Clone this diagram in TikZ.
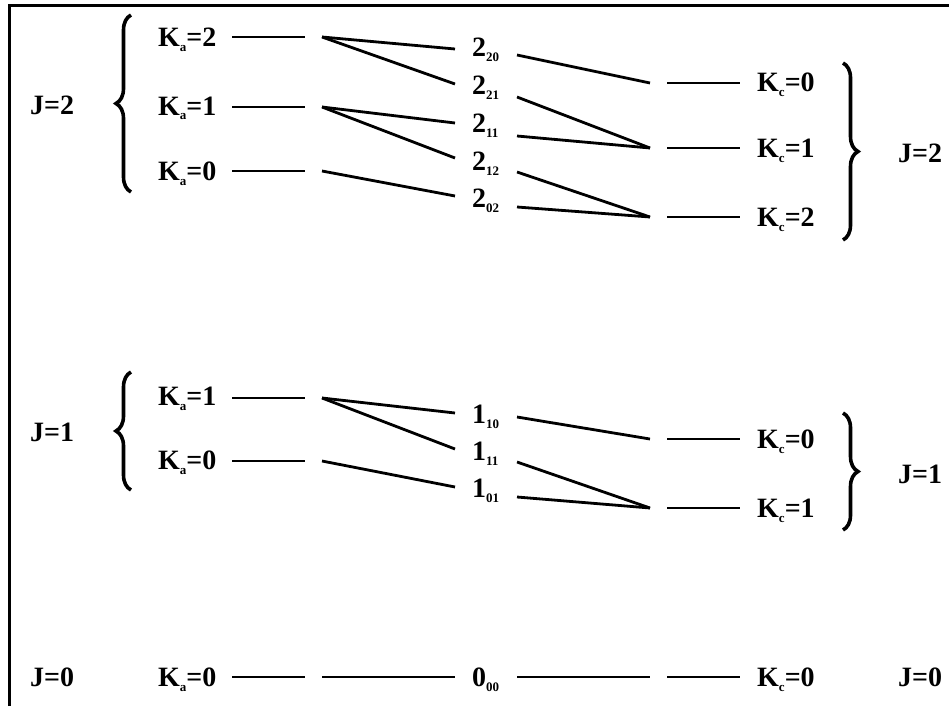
\documentclass[tikz,border=0pt]{standalone}
\usepackage{fontspec}
\setmainfont{Liberation Serif}
\usetikzlibrary{decorations.pathreplacing}
\newcommand\dn[1]{\raisebox{-5pt}{\fontsize{13}{13}\selectfont #1}}
\tikzset{
  lvl/.style={line width=2.8pt},
  txt/.style={anchor=base west, inner sep=0pt, font=\fontsize{28}{30}\selectfont\bfseries},
  lbrc/.style={decorate, decoration={brace, amplitude=15pt}, line width=3.6pt},
  frame/.style={line width=3pt}
}
\begin{document}
\begin{tikzpicture}[x=1pt,y=-1pt]
\useasboundingbox (0,0) rectangle (949,706);
% frame
\coordinate (fb) at (9.5,706); \coordinate (fc) at (9.5,6); \coordinate (fr) at (949,6);
\draw[frame] (fb) -- (fc) -- (fr);

% ================= J = 2 =================
\node[txt] (J2l) at (30,114) {J=2};
\node[txt] (J2r) at (898,162) {J=2};
\coordinate (b2lt) at (131,15); \coordinate (b2lb) at (131,192);
\draw[lbrc] (b2lb) -- (b2lt);
\coordinate (b2rt) at (843,63); \coordinate (b2rb) at (843,240);
\draw[lbrc] (b2rt) -- (b2rb);

\node[txt] (ka22) at (158,47) {K\dn{a}=2};
\node[txt] (ka21) at (158,115) {K\dn{a}=1};
\node[txt] (ka20) at (158,180) {K\dn{a}=0};
\coordinate (a22s) at (232,37);  \coordinate (a22e) at (305,37);
\coordinate (a21s) at (232,107); \coordinate (a21e) at (305,107);
\coordinate (a20s) at (232,171); \coordinate (a20e) at (305,171);
\draw[lvl] (a22s) -- (a22e);
\draw[lvl] (a21s) -- (a21e);
\draw[lvl] (a20s) -- (a20e);
\coordinate (f22) at (322,37);
\coordinate (f21) at (322,107);
\coordinate (f20) at (322,171);

\node[txt] (m220) at (472,57)  {2\dn{20}};
\node[txt] (m221) at (472,95)  {2\dn{21}};
\node[txt] (m211) at (472,132) {2\dn{11}};
\node[txt] (m212) at (472,170) {2\dn{12}};
\node[txt] (m202) at (472,207) {2\dn{02}};
\coordinate (m220w) at (455,49);  \coordinate (m220e) at (517,55);
\coordinate (m221w) at (455,84);  \coordinate (m221e) at (517,97);
\coordinate (m211w) at (455,123); \coordinate (m211e) at (517,136);
\coordinate (m212w) at (455,158); \coordinate (m212e) at (517,172);
\coordinate (m202w) at (455,196); \coordinate (m202e) at (517,207);

\draw[lvl] (f22) -- (m220w);
\draw[lvl] (f22) -- (m221w);
\draw[lvl] (f21) -- (m211w);
\draw[lvl] (f21) -- (m212w);
\draw[lvl] (f20) -- (m202w);

\coordinate (r20) at (650,83);
\coordinate (r21) at (650,148);
\coordinate (r22) at (650,217);
\draw[lvl] (m220e) -- (r20);
\draw[lvl] (m221e) -- (r21);
\draw[lvl] (m211e) -- (r21);
\draw[lvl] (m212e) -- (r22);
\draw[lvl] (m202e) -- (r22);

\coordinate (c20s) at (667,83);  \coordinate (c20e) at (740,83);
\coordinate (c21s) at (667,148); \coordinate (c21e) at (740,148);
\coordinate (c22s) at (667,217); \coordinate (c22e) at (740,217);
\draw[lvl] (c20s) -- (c20e);
\draw[lvl] (c21s) -- (c21e);
\draw[lvl] (c22s) -- (c22e);
\node[txt] (kc20) at (757,92)  {K\dn{c}=0};
\node[txt] (kc21) at (757,157) {K\dn{c}=1};
\node[txt] (kc22) at (757,226) {K\dn{c}=2};

% ================= J = 1 =================
\node[txt] (J1l) at (30,441) {J=1};
\node[txt] (J1r) at (898,483) {J=1};
\coordinate (b1lt) at (131,372); \coordinate (b1lb) at (131,490);
\draw[lbrc] (b1lb) -- (b1lt);
\coordinate (b1rt) at (843,413); \coordinate (b1rb) at (843,530);
\draw[lbrc] (b1rt) -- (b1rb);

\node[txt] (ka11) at (158,405) {K\dn{a}=1};
\node[txt] (ka10) at (158,469) {K\dn{a}=0};
\coordinate (a11s) at (232,398); \coordinate (a11e) at (305,398);
\coordinate (a10s) at (232,461); \coordinate (a10e) at (305,461);
\draw[lvl] (a11s) -- (a11e);
\draw[lvl] (a10s) -- (a10e);
\coordinate (f11) at (322,398);
\coordinate (f10) at (322,461);

\node[txt] (m110) at (472,423) {1\dn{10}};
\node[txt] (m111) at (472,460) {1\dn{11}};
\node[txt] (m101) at (472,497) {1\dn{01}};
\coordinate (m110w) at (455,413); \coordinate (m110e) at (517,417);
\coordinate (m111w) at (455,449); \coordinate (m111e) at (517,462);
\coordinate (m101w) at (455,487); \coordinate (m101e) at (517,497);

\draw[lvl] (f11) -- (m110w);
\draw[lvl] (f11) -- (m111w);
\draw[lvl] (f10) -- (m101w);

\coordinate (r10) at (650,439);
\coordinate (r11) at (650,508);
\draw[lvl] (m110e) -- (r10);
\draw[lvl] (m111e) -- (r11);
\draw[lvl] (m101e) -- (r11);

\coordinate (c10s) at (667,439); \coordinate (c10e) at (740,439);
\coordinate (c11s) at (667,508); \coordinate (c11e) at (740,508);
\draw[lvl] (c10s) -- (c10e);
\draw[lvl] (c11s) -- (c11e);
\node[txt] (kc10) at (757,448) {K\dn{c}=0};
\node[txt] (kc11) at (757,517) {K\dn{c}=1};

% ================= J = 0 =================
\node[txt] (J0l) at (30,686) {J=0};
\node[txt] (J0r) at (898,686) {J=0};
\node[txt] (ka00) at (158,686) {K\dn{a}=0};
\node[txt] (m000) at (472,686) {0\dn{00}};
\node[txt] (kc00) at (757,686) {K\dn{c}=0};
\coordinate (a00s) at (232,677); \coordinate (a00e) at (305,677);
\coordinate (f00)  at (322,677); \coordinate (m000w) at (455,677);
\coordinate (m000e) at (517,677); \coordinate (r00) at (650,677);
\coordinate (c00s) at (667,677); \coordinate (c00e) at (740,677);
\draw[lvl] (a00s) -- (a00e);
\draw[lvl] (f00) -- (m000w);
\draw[lvl] (m000e) -- (r00);
\draw[lvl] (c00s) -- (c00e);
\end{tikzpicture}
\end{document}
